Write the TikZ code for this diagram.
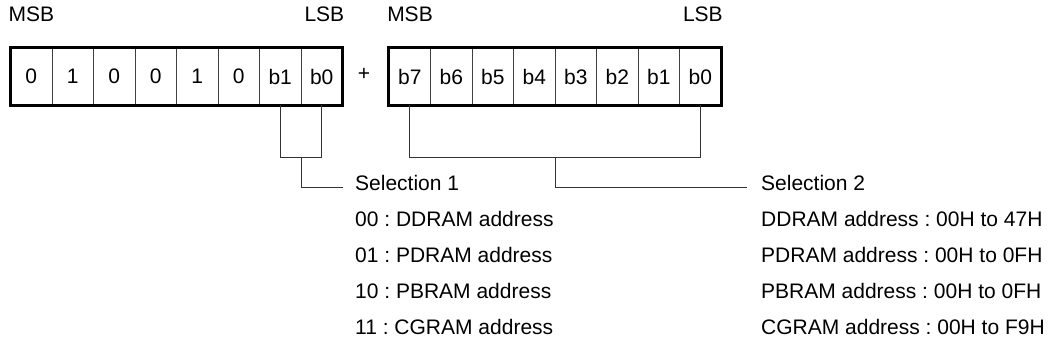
\documentclass[tikz,border=0pt]{standalone}
\usepackage{fontspec}
\setmainfont{Liberation Sans}
\usetikzlibrary{fit}
\frenchspacing
\begin{document}
\begin{tikzpicture}[x=1pt,y=-1pt,
  cell/.style={draw=black!75, line width=0.9pt, minimum width=41.5pt, minimum height=57pt, inner sep=0pt, font=\fontsize{21}{24}\selectfont, anchor=center},
  frame/.style={draw=black, line width=3pt, inner sep=0pt},
  lbl/.style={inner sep=0pt, font=\fontsize{21}{24}\selectfont, text height=0.72em, text depth=0pt},
  wire/.style={draw=black!80, line width=0.9pt}]
\useasboundingbox (0,0) rectangle (1053,351);
% register 1
\foreach \t [count=\i] in {0,1,0,0,1,0,b1,b0}
  \node[cell] (a\i) at ({10.5+41.5*(\i-0.5)},76.5) {\t};
\node[frame, fit=(a1)(a8)] (A) {};
% register 2
\foreach \t [count=\i] in {b7,b6,b5,b4,b3,b2,b1,b0}
  \node[cell] (b\i) at ({389+41.5*(\i-0.5)},76.5) {\t};
\node[frame, fit=(b1)(b8)] (B) {};
% plus
\node[lbl] (plus) at (364,77) {+};
% MSB / LSB
\node[lbl, anchor=west] (msb1) at (A.west |- 0,18) {MSB};
\node[lbl, anchor=east] (lsb1) at (A.east |- 0,18) {LSB};
\node[lbl, anchor=west] (msb2) at (B.west |- 0,18) {MSB};
\node[lbl, anchor=east] (lsb2) at (B.east |- 0,18) {LSB};
% selection texts
\node[lbl, anchor=west] (sel1) at (355,187) {Selection 1};
\node[lbl, anchor=west] (s1a) at (355,223) {00 : DDRAM address};
\node[lbl, anchor=west] (s1b) at (355,259) {01 : PDRAM address};
\node[lbl, anchor=west] (s1c) at (355,295) {10 : PBRAM address};
\node[lbl, anchor=west] (s1d) at (355,331) {11 : CGRAM address};
\node[lbl, anchor=west] (sel2) at (761,187) {Selection 2};
\node[lbl, anchor=west] (s2a) at (761,223) {DDRAM address : 00H to 47H};
\node[lbl, anchor=west] (s2b) at (761,259) {PDRAM address : 00H to 0FH};
\node[lbl, anchor=west] (s2c) at (761,295) {PBRAM address : 00H to 0FH};
\node[lbl, anchor=west] (s2d) at (761,331) {CGRAM address : 00H to F9H};
% brackets
\draw[wire] (a7.south) -- ++(0,52) -| (a8.south);
\coordinate (k1) at (a7.south east |- 0,157);
\coordinate (e1) at ([xshift=-12pt]sel1.west);
\draw[wire] (k1) |- (e1);
\draw[wire] (b1.south) -- ++(0,52) -| (b8.south);
\coordinate (k2) at (b4.south east |- 0,157);
\coordinate (e2) at ([xshift=-14pt]sel2.west);
\draw[wire] (k2) |- (e2);
\end{tikzpicture}
\end{document}
